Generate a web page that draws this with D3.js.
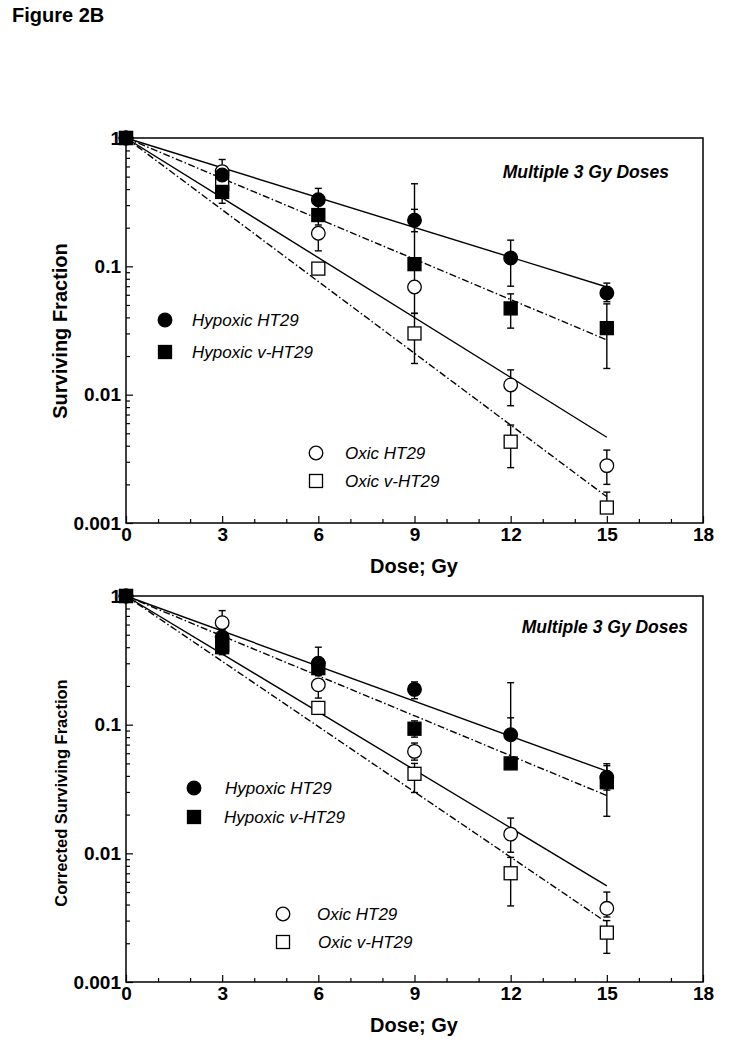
<!DOCTYPE html>
<html>
<head>
<meta charset="utf-8">
<script src="https://cdn.jsdelivr.net/npm/d3@7"></script>
<style>
  html, body { margin: 0; padding: 0; background: #fff; }
  svg { display: block; font-family: "Liberation Sans", Arial, sans-serif; }
</style>
</head>
<body>
<svg id="chart" width="741" height="1050"></svg>
<script>
// ---------------- DATA ----------------
const doses = [0, 3, 6, 9, 12, 15];
const xTickValues = [0, 3, 6, 9, 12, 15, 18];
const yTickValues = [1, 0.1, 0.01, 0.001];
const yTickLabels = ["1", "0.1", "0.01", "0.001"];
const seriesNames = ["Hypoxic HT29", "Hypoxic v-HT29", "Oxic HT29", "Oxic v-HT29"];
const fitDoses = [0, 15];

// Panel A: Surviving Fraction
const hypHT29_A    = [1, 0.515, 0.33, 0.229, 0.116, 0.062];
const hypHT29_A_lo = [null, 0.45, 0.27, 0.186, 0.07, 0.053];
const hypHT29_A_hi = [null, 0.60, 0.405, 0.44, 0.16, 0.074];
const hypV_A    = [1, 0.38, 0.251, 0.104, 0.047, 0.033];
const hypV_A_lo = [null, 0.31, 0.21, 0.043, 0.033, 0.016];
const hypV_A_hi = [null, 0.45, 0.30, 0.278, 0.061, 0.051];
const oxHT29_A    = [1, 0.547, 0.181, 0.069, 0.0119, 0.0028];
const oxHT29_A_lo = [null, 0.45, 0.132, null, 0.0082, 0.0020];
const oxHT29_A_hi = [null, 0.68, 0.20, null, 0.0156, 0.0037];
const oxV_A    = [1, 0.44, 0.096, 0.030, 0.0043, 0.00132];
const oxV_A_lo = [null, 0.35, null, 0.0175, 0.0027, null];
const oxV_A_hi = [null, 0.52, null, 0.043, 0.0058, 0.00174];
const fitA = [[1, 0.069], [1, 0.0267], [1, 0.00466], [1, 0.0016]];

// Panel B: Corrected Surviving Fraction
const hypHT29_B    = [1, 0.48, 0.30, 0.188, 0.0836, 0.039];
const hypHT29_B_lo = [null, 0.40, 0.26, 0.159, null, 0.031];
const hypHT29_B_hi = [null, 0.55, 0.40, 0.215, 0.212, 0.0497];
const hypV_B    = [1, 0.40, 0.275, 0.093, 0.050, 0.0357];
const hypV_B_lo = [null, 0.35, 0.24, 0.08, null, 0.0194];
const hypV_B_hi = [null, 0.45, 0.32, 0.107, 0.113, 0.048];
const oxHT29_B    = [1, 0.62, 0.204, 0.062, 0.0141, 0.00374];
const oxHT29_B_lo = [null, 0.50, 0.161, 0.053, 0.0102, 0.0032];
const oxHT29_B_hi = [null, 0.77, 0.22, 0.072, 0.0188, 0.0050];
const oxV_B    = [1, 0.42, 0.135, 0.0415, 0.0070, 0.00242];
const oxV_B_lo = [null, 0.36, null, 0.0297, 0.0039, 0.00167];
const oxV_B_hi = [null, 0.48, null, 0.05, 0.0093, 0.0030];
const fitB = [[1, 0.0435], [1, 0.0281], [1, 0.00558], [1, 0.0029]];

// ---------------- DRAWING ----------------
const svg = d3.select("#chart");
const FONT = "'Liberation Sans', Arial, sans-serif";

svg.append("text").attr("x", 12).attr("y", 22)
  .attr("font-size", 20).attr("font-weight", "bold").text("Figure 2B");

const styles = [
  { fill: "#000", shape: "circle", dash: null },
  { fill: "#000", shape: "square", dash: "7,2.5,1.5,2.5" },
  { fill: "#fff", shape: "circle", dash: null },
  { fill: "#fff", shape: "square", dash: "7,2.5,1.5,2.5" }
];

function drawMarker(g, shape, fill, cx, cy, size) {
  if (shape === "circle") {
    g.append("circle").attr("cx", cx).attr("cy", cy).attr("r", size / 2 + 0.3)
      .attr("fill", fill).attr("stroke", "#000").attr("stroke-width", 1.3);
  } else {
    g.append("rect").attr("x", cx - size / 2).attr("y", cy - size / 2)
      .attr("width", size).attr("height", size)
      .attr("fill", fill).attr("stroke", "#000").attr("stroke-width", 1.3);
  }
}

function drawPanel(p) {
  const x = d3.scaleLinear().domain([0, 18]).range([126, 703]);
  const y = d3.scaleLog().domain([0.001, 1]).range([p.bottom, p.top]);
  const g = svg.append("g");

  const xMinor = d3.range(0, 19).filter(v => v % 3 !== 0);
  g.append("g").attr("transform", `translate(0,${p.bottom})`)
    .call(d3.axisBottom(x).tickValues(xMinor).tickSize(-4).tickFormat(""))
    .call(s => s.select(".domain").remove())
    .call(s => s.selectAll("line").attr("stroke-width", 1.2));
  g.append("g").attr("transform", `translate(0,${p.bottom})`)
    .call(d3.axisBottom(x).tickValues(xTickValues).tickSize(-7).tickPadding(5).tickFormat(d3.format("d")))
    .call(s => s.select(".domain").remove())
    .call(s => s.selectAll("line").attr("stroke-width", 1.2))
    .call(s => s.selectAll("text").attr("font-size", 19).attr("font-weight", "bold")
      .attr("font-family", FONT).attr("fill", "#000"));

  const yMinor = [];
  [0.001, 0.01, 0.1].forEach(d => { for (let k = 2; k <= 9; k++) yMinor.push(d * k); });
  g.append("g").attr("transform", "translate(126,0)")
    .call(d3.axisLeft(y).tickValues(yMinor).tickSize(-4).tickFormat(""))
    .call(s => s.select(".domain").remove())
    .call(s => s.selectAll("line").attr("stroke-width", 1.2));
  g.append("g").attr("transform", "translate(126,0)")
    .call(d3.axisLeft(y).tickValues(yTickValues).tickSize(-7).tickPadding(5)
      .tickFormat((d, i) => yTickLabels[i]))
    .call(s => s.select(".domain").remove())
    .call(s => s.selectAll("line").attr("stroke-width", 1.2))
    .call(s => s.selectAll("text").attr("font-size", 19).attr("font-weight", "bold")
      .attr("font-family", FONT).attr("fill", "#000"));

  g.append("rect").attr("x", 126).attr("y", p.top).attr("width", 703 - 126)
    .attr("height", p.bottom - p.top).attr("fill", "none")
    .attr("stroke", "#000").attr("stroke-width", 1.5);

  g.append("text").attr("x", 414).attr("y", p.bottom + 50)
    .attr("text-anchor", "middle").attr("font-size", 20).attr("font-weight", "bold")
    .text("Dose; Gy");
  g.append("text").attr("transform", `translate(${p.ylabX},${p.ylabY}) rotate(-90)`)
    .attr("text-anchor", "middle").attr("font-size", p.ylabSize).attr("font-weight", "bold")
    .text(p.ylabel);

  g.append("text").attr("x", p.titleX).attr("y", p.titleY)
    .attr("text-anchor", "end").attr("font-size", 17.5).attr("font-weight", "bold")
    .attr("font-style", "italic").text("Multiple 3 Gy Doses");

  p.fits.forEach((f, i) => {
    const pts = fitDoses.map((d, k) => [x(d), y(f[k])]);
    g.append("path").attr("d", d3.line()(pts)).attr("fill", "none")
      .attr("stroke", "#000").attr("stroke-width", 1.4)
      .attr("stroke-dasharray", styles[i].dash);
  });

  p.series.forEach(s => {
    doses.forEach((d, k) => {
      const lo = s.lo[k], hi = s.hi[k];
      if (lo == null && hi == null) return;
      const cx = x(d);
      const yl = y(lo != null ? lo : s.v[k]);
      const yh = y(hi != null ? hi : s.v[k]);
      g.append("line").attr("x1", cx).attr("x2", cx).attr("y1", yl).attr("y2", yh)
        .attr("stroke", "#000").attr("stroke-width", 1.4);
      [lo, hi].forEach(e => {
        if (e == null) return;
        g.append("line").attr("x1", cx - 3.5).attr("x2", cx + 3.5)
          .attr("y1", y(e)).attr("y2", y(e)).attr("stroke", "#000").attr("stroke-width", 1.4);
      });
    });
  });

  [3, 2, 1, 0].forEach(i => {
    const s = p.series[i], st = styles[i];
    doses.forEach((d, k) => {
      drawMarker(g, st.shape, st.fill, x(d), y(s.v[k]), 13);
    });
  });

  p.legend.forEach((L, i) => {
    const st = styles[i];
    drawMarker(g, st.shape, st.fill, L.mx, L.my, 13);
    g.append("text").attr("x", L.tx).attr("y", L.my + 6).attr("font-size", 17)
      .attr("font-style", "italic").text(seriesNames[i]);
  });
}

drawPanel({
  top: 138, bottom: 523,
  ylabel: "Surviving Fraction", ylabX: 67, ylabY: 331, ylabSize: 20,
  titleX: 669, titleY: 178,
  fits: fitA,
  series: [
    { v: hypHT29_A, lo: hypHT29_A_lo, hi: hypHT29_A_hi },
    { v: hypV_A, lo: hypV_A_lo, hi: hypV_A_hi },
    { v: oxHT29_A, lo: oxHT29_A_lo, hi: oxHT29_A_hi },
    { v: oxV_A, lo: oxV_A_lo, hi: oxV_A_hi }
  ],
  legend: [
    { mx: 165, my: 320, tx: 192 },
    { mx: 165, my: 352, tx: 192 },
    { mx: 316, my: 453, tx: 345 },
    { mx: 316, my: 481, tx: 345 }
  ]
});

drawPanel({
  top: 596, bottom: 982,
  ylabel: "Corrected Surviving Fraction", ylabX: 67, ylabY: 793, ylabSize: 16.5,
  titleX: 688, titleY: 633,
  fits: fitB,
  series: [
    { v: hypHT29_B, lo: hypHT29_B_lo, hi: hypHT29_B_hi },
    { v: hypV_B, lo: hypV_B_lo, hi: hypV_B_hi },
    { v: oxHT29_B, lo: oxHT29_B_lo, hi: oxHT29_B_hi },
    { v: oxV_B, lo: oxV_B_lo, hi: oxV_B_hi }
  ],
  legend: [
    { mx: 194, my: 788, tx: 225 },
    { mx: 194, my: 817, tx: 224 },
    { mx: 283, my: 914, tx: 317 },
    { mx: 283, my: 942, tx: 318 }
  ]
});
</script>
</body>
</html>
